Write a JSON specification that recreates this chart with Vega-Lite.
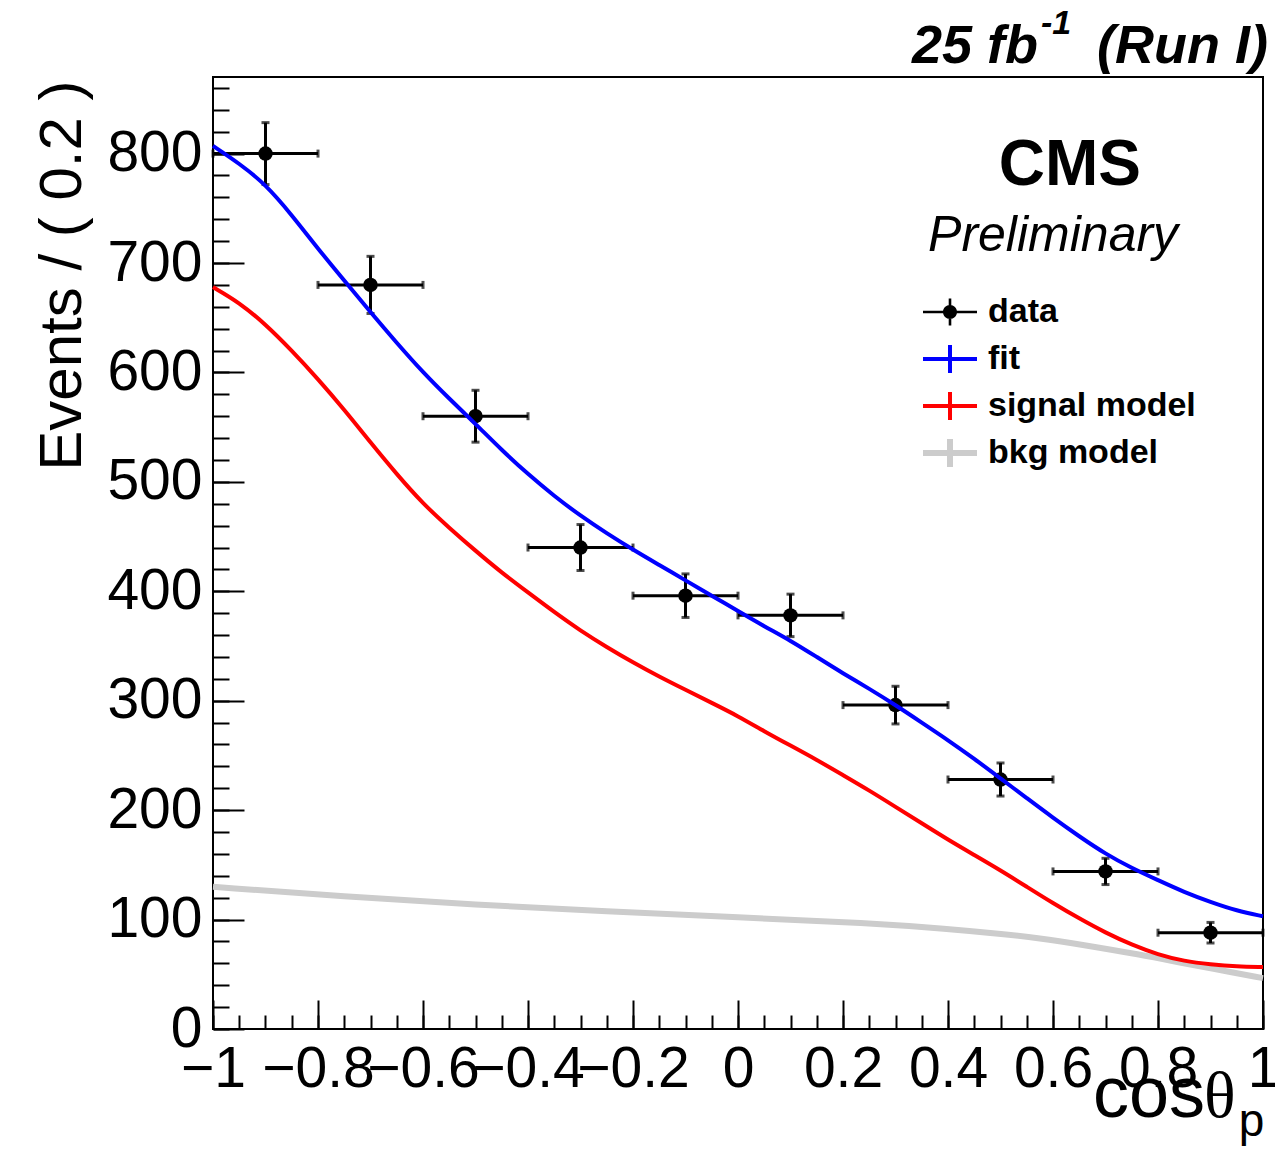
{
  "$schema": "https://vega.github.io/schema/vega-lite/v6.json",
  "width": 1050,
  "height": 952,
  "autosize": "none",
  "padding": {"left": 213, "top": 77, "right": 12, "bottom": 123},
  "background": "white",
  "config": {
    "font": "Liberation Sans",
    "view": {"stroke": "black", "strokeWidth": 2},
    "axis": {"domainColor": "black", "tickColor": "black", "labelColor": "black", "titleColor": "black", "grid": false, "labelFont": "Liberation Sans", "titleFont": "Liberation Sans", "titleFontWeight": "normal", "domain": false}
  },
  "datasets": {
    "pts": [
      {"x": -0.9, "xlo": -1.0, "xhi": -0.8, "y": 800, "ylo": 771.7, "yhi": 828.3},
      {"x": -0.7, "xlo": -0.8, "xhi": -0.6, "y": 680, "ylo": 653.9, "yhi": 706.1},
      {"x": -0.5, "xlo": -0.6, "xhi": -0.4, "y": 560, "ylo": 536.3, "yhi": 583.7},
      {"x": -0.3, "xlo": -0.4, "xhi": -0.2, "y": 440, "ylo": 419.0, "yhi": 461.0},
      {"x": -0.1, "xlo": -0.2, "xhi": 0.0, "y": 396, "ylo": 376.1, "yhi": 415.9},
      {"x": 0.1, "xlo": 0.0, "xhi": 0.2, "y": 378, "ylo": 358.6, "yhi": 397.4},
      {"x": 0.3, "xlo": 0.2, "xhi": 0.4, "y": 296, "ylo": 278.8, "yhi": 313.2},
      {"x": 0.5, "xlo": 0.4, "xhi": 0.6, "y": 228, "ylo": 212.9, "yhi": 243.1},
      {"x": 0.7, "xlo": 0.6, "xhi": 0.8, "y": 144, "ylo": 132.0, "yhi": 156.0},
      {"x": 0.9, "xlo": 0.8, "xhi": 1.0, "y": 88, "ylo": 78.6, "yhi": 97.4}
    ],
    "fit": [
      {"x": -1, "y": 807}, {"x": -0.95, "y": 791}, {"x": -0.9, "y": 772}, {"x": -0.85, "y": 744}, {"x": -0.8, "y": 713},
      {"x": -0.75, "y": 684}, {"x": -0.7, "y": 655}, {"x": -0.65, "y": 627}, {"x": -0.6, "y": 600}, {"x": -0.55, "y": 576},
      {"x": -0.5, "y": 553}, {"x": -0.45, "y": 529}, {"x": -0.4, "y": 507}, {"x": -0.35, "y": 487}, {"x": -0.3, "y": 469},
      {"x": -0.25, "y": 453}, {"x": -0.2, "y": 438}, {"x": -0.15, "y": 424}, {"x": -0.1, "y": 410}, {"x": -0.05, "y": 396},
      {"x": 0, "y": 382}, {"x": 0.05, "y": 368}, {"x": 0.1, "y": 355}, {"x": 0.15, "y": 340}, {"x": 0.2, "y": 325},
      {"x": 0.25, "y": 311}, {"x": 0.3, "y": 296}, {"x": 0.35, "y": 280}, {"x": 0.4, "y": 264}, {"x": 0.45, "y": 247},
      {"x": 0.5, "y": 229}, {"x": 0.55, "y": 211}, {"x": 0.6, "y": 193}, {"x": 0.65, "y": 176}, {"x": 0.7, "y": 160},
      {"x": 0.75, "y": 147}, {"x": 0.8, "y": 136}, {"x": 0.85, "y": 125}, {"x": 0.9, "y": 116}, {"x": 0.95, "y": 108},
      {"x": 1, "y": 103}
    ],
    "sig": [
      {"x": -1, "y": 678}, {"x": -0.95, "y": 664}, {"x": -0.9, "y": 644}, {"x": -0.85, "y": 620}, {"x": -0.8, "y": 594},
      {"x": -0.75, "y": 566}, {"x": -0.7, "y": 536}, {"x": -0.65, "y": 507}, {"x": -0.6, "y": 480}, {"x": -0.55, "y": 458},
      {"x": -0.5, "y": 437}, {"x": -0.45, "y": 417}, {"x": -0.4, "y": 399}, {"x": -0.35, "y": 381}, {"x": -0.3, "y": 364},
      {"x": -0.25, "y": 349}, {"x": -0.2, "y": 335}, {"x": -0.15, "y": 322}, {"x": -0.1, "y": 310}, {"x": -0.05, "y": 298},
      {"x": 0, "y": 286}, {"x": 0.05, "y": 272}, {"x": 0.1, "y": 259}, {"x": 0.15, "y": 246}, {"x": 0.2, "y": 232},
      {"x": 0.25, "y": 218}, {"x": 0.3, "y": 203}, {"x": 0.35, "y": 188}, {"x": 0.4, "y": 173}, {"x": 0.45, "y": 159},
      {"x": 0.5, "y": 145}, {"x": 0.55, "y": 130}, {"x": 0.6, "y": 115}, {"x": 0.65, "y": 101}, {"x": 0.7, "y": 88},
      {"x": 0.75, "y": 77}, {"x": 0.8, "y": 68}, {"x": 0.85, "y": 62}, {"x": 0.9, "y": 59}, {"x": 0.95, "y": 57},
      {"x": 1, "y": 56.6}
    ],
    "bkg": [
      {"x": -1, "y": 130}, {"x": -0.75, "y": 121}, {"x": -0.5, "y": 113.5}, {"x": -0.25, "y": 107.5}, {"x": 0, "y": 102},
      {"x": 0.25, "y": 97}, {"x": 0.4, "y": 91.5}, {"x": 0.5, "y": 87}, {"x": 0.575, "y": 83}, {"x": 0.65, "y": 77.5},
      {"x": 0.766, "y": 68}, {"x": 0.85, "y": 60}, {"x": 0.9, "y": 55.5}, {"x": 1, "y": 46.5}
    ],
    "one": [{"k": 1}]
  },
  "layer": [
    {
      "data": {"name": "pts"},
      "mark": {"type": "rule", "color": "black", "strokeWidth": 3},
      "encoding": {
        "x": {"field": "xlo", "type": "quantitative", "scale": {"domain": [-1, 1], "nice": false, "zero": false},
          "axis": {"orient": "bottom", "values": [-1, -0.8, -0.6, -0.4, -0.2, 0, 0.2, 0.4, 0.6, 0.8, 1], "tickSize": -29, "tickWidth": 2, "labels": false, "title": null}},
        "x2": {"field": "xhi"},
        "y": {"field": "y", "type": "quantitative", "scale": {"domain": [0, 870], "nice": false, "zero": false},
          "axis": {"orient": "left", "values": [0, 100, 200, 300, 400, 500, 600, 700, 800], "tickSize": -31, "tickWidth": 2, "labels": false, "title": null}}
      }
    },
    {
      "data": {"name": "pts"},
      "mark": {"type": "rule", "color": "black", "strokeWidth": 3},
      "encoding": {
        "x": {"field": "x", "type": "quantitative",
          "axis": {"orient": "bottom", "values": [-1, -0.95, -0.9, -0.85, -0.8, -0.75, -0.7, -0.65, -0.6, -0.55, -0.5, -0.45, -0.4, -0.35, -0.3, -0.25, -0.2, -0.15, -0.1, -0.05, 0, 0.05, 0.1, 0.15, 0.2, 0.25, 0.3, 0.35, 0.4, 0.45, 0.5, 0.55, 0.6, 0.65, 0.7, 0.75, 0.8, 0.85, 0.9, 0.95, 1], "tickSize": -14, "tickWidth": 2, "labels": false, "title": null}},
        "y": {"field": "ylo", "type": "quantitative",
          "axis": {"orient": "left", "values": [0, 20, 40, 60, 80, 100, 120, 140, 160, 180, 200, 220, 240, 260, 280, 300, 320, 340, 360, 380, 400, 420, 440, 460, 480, 500, 520, 540, 560, 580, 600, 620, 640, 660, 680, 700, 720, 740, 760, 780, 800, 820, 840, 860], "tickSize": -16, "tickWidth": 2, "labels": false, "title": null}},
        "y2": {"field": "yhi"}
      }
    },
    {
      "data": {"name": "pts"},
      "transform": [{"fold": ["xlo", "xhi"], "as": ["end", "xend"]}],
      "mark": {"type": "tick", "orient": "vertical", "color": "black", "size": 8, "thickness": 3},
      "encoding": {
        "x": {"field": "xend", "type": "quantitative",
          "axis": {"orient": "bottom", "values": [-1, -0.8, -0.6, -0.4, -0.2, 0, 0.2, 0.4, 0.6, 0.8, 1], "ticks": false, "labels": true, "format": ".1~f", "labelFontSize": 57, "labelPadding": 12, "labelOverlap": false, "labelFlush": false, "title": null}},
        "y": {"field": "y", "type": "quantitative",
          "axis": {"orient": "left", "values": [0, 100, 200, 300, 400, 500, 600, 700, 800], "ticks": false, "labels": true, "labelFontSize": 57, "labelPadding": 11, "labelOverlap": false, "labelFlush": false,
            "title": "Events / ( 0.2 )", "titleFontSize": 60, "titleAnchor": "end", "titleAlign": "right", "titleAngle": -90, "titleBaseline": "alphabetic", "titleX": -133, "titleY": 3}}
      }
    },
    {
      "data": {"name": "pts"},
      "transform": [{"fold": ["ylo", "yhi"], "as": ["end", "yend"]}],
      "mark": {"type": "tick", "orient": "horizontal", "color": "black", "size": 8, "thickness": 3},
      "encoding": {
        "x": {"field": "x", "type": "quantitative", "axis": null},
        "y": {"field": "yend", "type": "quantitative", "axis": null}
      }
    },
    {
      "data": {"name": "pts"},
      "mark": {"type": "point", "filled": true, "opacity": 1, "size": 210, "shape": "circle"},
      "encoding": {
        "x": {"field": "x", "type": "quantitative", "axis": null},
        "y": {"field": "y", "type": "quantitative", "axis": null},
        "color": {"datum": "data", "type": "nominal",
          "scale": {"domain": ["data", "fit", "signal model", "bkg model"], "range": ["black", "#0000ff", "#ff0000", "#cccccc"]},
          "legend": {
            "orient": "none", "legendX": 720, "legendY": 218, "title": null, "padding": 0,
            "symbolSize": 400, "labelFontSize": 34, "labelFontWeight": "bold", "labelFont": "Liberation Sans", "labelColor": "black",
            "labelOffset": 21, "rowPadding": 13, "labelLimit": 0, "symbolOpacity": 1, "symbolStrokeWidth": 0,
            "symbolType": {"expr": "datum.value === 'data' ? 'M-2.7,-0.13H2.7V0.13H-2.7ZM-0.13,-1.36H0.13V1.36H-0.13ZM0.7,0A0.7,0.7,0,1,1,-0.7,0A0.7,0.7,0,1,1,0.7,0Z' : datum.value === 'bkg model' ? 'M-2.7,-0.3H2.7V0.3H-2.7ZM-0.3,-1.4H0.3V1.4H-0.3Z' : 'M-2.7,-0.2H2.7V0.2H-2.7ZM-0.2,-1.4H0.2V1.4H-0.2Z'"},
            "symbolStrokeColor": {"expr": "datum.value === 'data' ? 'black' : datum.value === 'fit' ? '#0000ff' : datum.value === 'signal model' ? '#ff0000' : '#cccccc'"},
            "symbolFillColor": {"expr": "datum.value === 'data' ? 'black' : datum.value === 'fit' ? '#0000ff' : datum.value === 'signal model' ? '#ff0000' : '#cccccc'"}
          }}
      }
    },
    {
      "data": {"name": "bkg"},
      "mark": {"type": "line", "strokeWidth": 6, "interpolate": "basis"},
      "encoding": {
        "x": {"field": "x", "type": "quantitative", "axis": null},
        "y": {"field": "y", "type": "quantitative", "axis": null},
        "color": {"datum": "bkg model", "type": "nominal"}
      }
    },
    {
      "data": {"name": "sig"},
      "mark": {"type": "line", "strokeWidth": 4, "interpolate": "basis"},
      "encoding": {
        "x": {"field": "x", "type": "quantitative", "axis": null},
        "y": {"field": "y", "type": "quantitative", "axis": null},
        "color": {"datum": "signal model", "type": "nominal"}
      }
    },
    {
      "data": {"name": "fit"},
      "mark": {"type": "line", "strokeWidth": 4, "interpolate": "basis"},
      "encoding": {
        "x": {"field": "x", "type": "quantitative", "axis": null},
        "y": {"field": "y", "type": "quantitative", "axis": null},
        "color": {"datum": "fit", "type": "nominal"}
      }
    },
    {
      "data": {"name": "one"},
      "mark": {"type": "text", "text": "CMS", "font": "Liberation Sans", "fontWeight": "bold", "fontSize": 64, "align": "center", "baseline": "alphabetic", "color": "black"},
      "encoding": {"x": {"datum": 0.632, "type": "quantitative", "axis": null}, "y": {"datum": 771, "type": "quantitative", "axis": null}}
    },
    {
      "data": {"name": "one"},
      "mark": {"type": "text", "text": "Preliminary", "font": "Liberation Sans", "fontStyle": "italic", "fontSize": 50, "align": "left", "baseline": "alphabetic", "color": "black"},
      "encoding": {"x": {"datum": 0.362, "type": "quantitative", "axis": null}, "y": {"datum": 711, "type": "quantitative", "axis": null}}
    },
    {
      "data": {"name": "one"},
      "mark": {"type": "text", "text": "25 fb", "font": "Liberation Sans", "fontStyle": "italic", "fontWeight": "bold", "fontSize": 54, "align": "right", "baseline": "alphabetic", "color": "black"},
      "encoding": {"x": {"datum": 0.5714, "type": "quantitative", "axis": null}, "y": {"datum": 882.5, "type": "quantitative", "axis": null}}
    },
    {
      "data": {"name": "one"},
      "mark": {"type": "text", "text": "-1", "font": "Liberation Sans", "fontStyle": "italic", "fontWeight": "bold", "fontSize": 34, "align": "left", "baseline": "alphabetic", "color": "black"},
      "encoding": {"x": {"datum": 0.577, "type": "quantitative", "axis": null}, "y": {"datum": 909, "type": "quantitative", "axis": null}}
    },
    {
      "data": {"name": "one"},
      "mark": {"type": "text", "text": "(Run I)", "font": "Liberation Sans", "fontStyle": "italic", "fontWeight": "bold", "fontSize": 54, "align": "right", "baseline": "alphabetic", "color": "black"},
      "encoding": {"x": {"datum": 1.0095, "type": "quantitative", "axis": null}, "y": {"datum": 882.5, "type": "quantitative", "axis": null}}
    },
    {
      "data": {"name": "one"},
      "mark": {"type": "text", "text": "cos", "font": "Liberation Sans", "fontSize": 72, "align": "left", "baseline": "alphabetic", "color": "black"},
      "encoding": {"x": {"datum": 0.676, "type": "quantitative", "axis": null}, "y": {"datum": -80, "type": "quantitative", "axis": null}}
    },
    {
      "data": {"name": "one"},
      "mark": {"type": "text", "text": "θ", "font": "Liberation Serif", "fontSize": 66, "align": "left", "baseline": "alphabetic", "color": "black"},
      "encoding": {"x": {"datum": 0.8876, "type": "quantitative", "axis": null}, "y": {"datum": -80, "type": "quantitative", "axis": null}}
    },
    {
      "data": {"name": "one"},
      "mark": {"type": "text", "text": "p", "font": "Liberation Sans", "fontSize": 46, "align": "left", "baseline": "alphabetic", "color": "black"},
      "encoding": {"x": {"datum": 0.954, "type": "quantitative", "axis": null}, "y": {"datum": -97.5, "type": "quantitative", "axis": null}}
    }
  ],
  "resolve": {"axis": {"x": "independent", "y": "independent"}}
}
